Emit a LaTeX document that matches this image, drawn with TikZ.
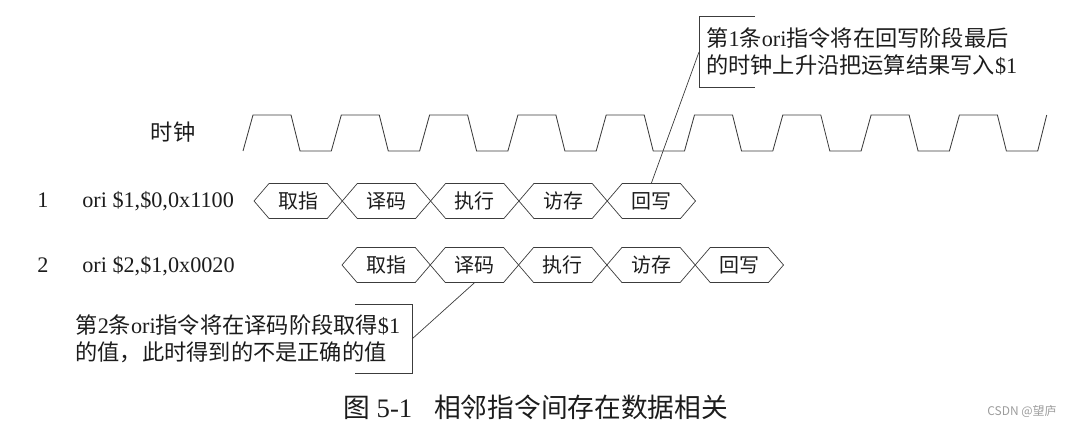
\documentclass[tikz,border=0pt]{standalone}
\usepackage{fontspec}
\setmainfont{Liberation Serif}
\newfontfamily\zh{Noto Sans CJK SC}
\usetikzlibrary{positioning,calc}
\definecolor{inkline}{HTML}{3C3C3C}
\definecolor{inktext}{HTML}{1C1C1C}
\definecolor{wmgray}{HTML}{9C9C9C}
\newcommand{\fsmain}{\fontsize{15.8}{19.2}\selectfont}
\newcommand{\fsstage}{\fontsize{14.2}{16}\selectfont\zh}
\newcommand{\fscap}{\fontsize{19}{22}\selectfont}

\begin{document}
\begin{tikzpicture}[x=0.25mm, y=-0.25mm,
  clk/.style={draw=inkline, line width=0.6pt},
  hexa/.style={draw=inkline, line width=0.5pt},
  stagelbl/.style={font=\fsstage, text=inktext, minimum height=8.75mm, inner sep=0pt},
  rowlbl/.style={font=\fsmain, text=inktext, inner sep=0pt},
  note/.style={font=\fsmain, text=inktext, align=left, inner xsep=1.75mm, inner ysep=0pt},
  bracket/.style={draw=inkline, line width=0.5pt},
]
\useasboundingbox (0,0) rectangle (1072,426);

% clock, 9 cycles of 88.3 px plus a last rising edge
\node[font=\fsmain\zh, text=inktext] (clklbl) at (173,132) {时钟};
\draw[clk] (243,151)
  \foreach \k in {0,...,8} { -- ++(10,-36) -- ++(38,0) -- ++(9,36) -- ++(31.3,0) }
  -- ++(9,-36);

% pipeline stages, row a = instruction 1, row b = instruction 2
\def\pitch{88.3}
\def\tip{15}
\def\hh{17.5}
\foreach \r/\y/\xs in {a/201/254, b/265/342} {
  \foreach \st [count=\i from 0] in {取指,译码,执行,访存,回写} {
    \pgfmathsetmacro{\xl}{\xs + \i*\pitch}
    \pgfmathsetmacro{\xr}{\xl + \pitch}
    \draw[hexa] (\xl,\y) -- (\xl+\tip,\y-\hh) -- (\xr-\tip,\y-\hh) -- (\xr,\y)
      -- (\xr-\tip,\y+\hh) -- (\xl+\tip,\y+\hh) -- cycle;
    \node[stagelbl] (\r\i) at ({(\xl+\xr)/2},\y) {\st};
  }
}

% instruction labels
\node[rowlbl, anchor=base] (n1) at (43,208) {1};
\node[rowlbl, anchor=base west] (i1) at (82,208) {ori \$1,\$0,0x1100};
\node[rowlbl, anchor=base] (n2) at (43,273) {2};
\node[rowlbl, anchor=base west] (i2) at (82,273) {ori \$2,\$1,0x0020};

% callout for write back
\node[note, anchor=west, minimum height=17.5mm] (c1) at (699,52)
  {{\zh 第}1{\zh 条}ori{\zh 指令将在回写阶段最后}\\{\zh 的时钟上升沿把运算结果写入}\$1};
\draw[bracket] ($(c1.north west)+(56,0)$) -- (c1.north west) -- (c1.south west)
  -- ($(c1.south west)+(56,0)$);
\draw[bracket] (c1.west) -- (a4.north);

% callout for decode
\node[note, anchor=east, minimum height=17mm, inner xsep=2.9mm] (c2) at (412,339)
  {{\zh 第}2{\zh 条}ori{\zh 指令将在译码阶段取得}\$1\\{\zh 的值，此时得到的不是正确的值}};
\draw[bracket] ($(c2.north east)+(-57,0)$) -- (c2.north east) -- (c2.south east)
  -- ($(c2.south east)+(-57,0)$);
\draw[bracket] (c2.east) -- (b1.south);

% caption
\node[font=\fscap, text=inktext, anchor=west, inner sep=0pt] (cap) at (343,407)
  {{\zh 图} 5-1\hspace{5.5mm}{\zh 相邻指令间存在数据相关}};
\node[font=\fontsize{8.5}{10}\selectfont\zh, text=wmgray, inner sep=0pt] (wm) at (1022,411)
  {CSDN @望庐};
\end{tikzpicture}
\end{document}
